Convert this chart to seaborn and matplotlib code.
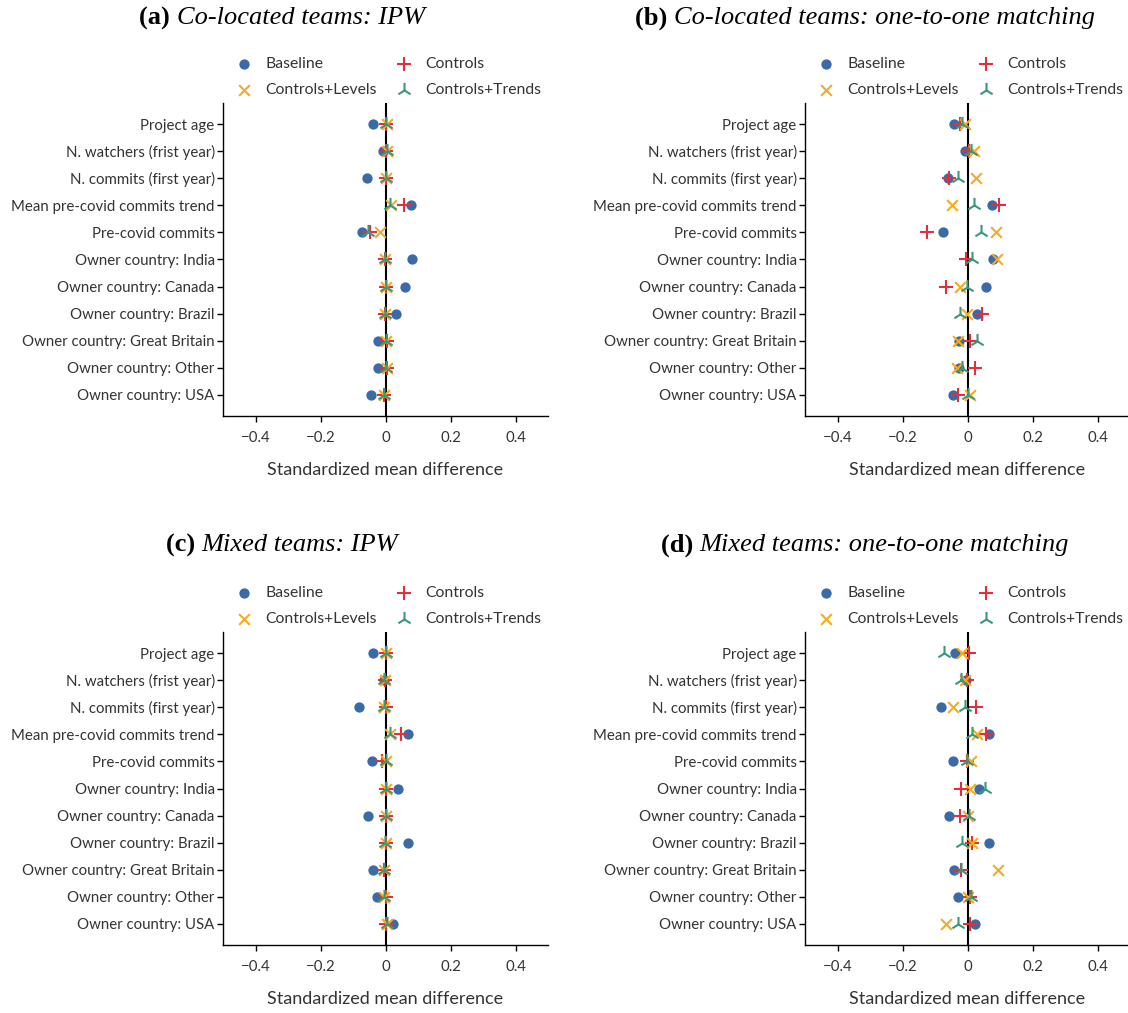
import numpy as np
import pandas as pd
import matplotlib
matplotlib.use("Agg")
import matplotlib.pyplot as plt
import seaborn as sns

# Covariates, top to bottom
covariates = [
    "Project age",
    "N. watchers (frist year)",
    "N. commits (first year)",
    "Mean pre-covid commits trend",
    "Pre-covid commits",
    "Owner country: India",
    "Owner country: Canada",
    "Owner country: Brazil",
    "Owner country: Great Britain",
    "Owner country: Other",
    "Owner country: USA",
]
methods = ["Baseline", "Controls", "Controls+Levels", "Controls+Trends"]

# (a) Co-located teams: IPW
a_baseline = [-0.039, -0.008, -0.057, 0.077, -0.073, 0.080, 0.061, 0.031, -0.024, -0.024, -0.045]
a_controls = [0.002, 0.002, 0.000, 0.057, -0.047, -0.002, 0.000, -0.002, 0.004, 0.004, -0.004]
a_levels = [0.004, 0.006, 0.000, 0.016, -0.016, -0.001, 0.002, -0.003, 0.000, 0.006, -0.004]
a_trends = [0.002, 0.006, 0.000, 0.015, -0.054, -0.001, 0.002, -0.003, 0.002, 0.002, -0.006]

# (b) Co-located teams: one-to-one matching
b_baseline = [-0.041, -0.007, -0.059, 0.076, -0.075, 0.078, 0.058, 0.029, -0.027, -0.026, -0.046]
b_controls = [-0.023, 0.005, -0.056, 0.098, -0.124, -0.006, -0.066, 0.044, 0.009, 0.023, -0.029]
b_levels = [-0.008, 0.019, 0.026, -0.048, 0.087, 0.092, -0.024, -0.002, -0.030, -0.032, 0.007]
b_trends = [-0.016, 0.010, -0.029, 0.021, 0.042, 0.014, -0.002, -0.024, 0.030, -0.018, 0.000]

# (c) Mixed teams: IPW
c_baseline = [-0.038, -0.004, -0.081, 0.070, -0.042, 0.037, -0.055, 0.068, -0.040, -0.026, 0.022]
c_controls = [0.001, -0.003, 0.002, 0.048, -0.011, 0.000, 0.002, 0.000, -0.004, 0.002, 0.002]
c_levels = [0.002, -0.002, -0.005, 0.014, 0.002, 0.000, 0.001, 0.000, -0.004, -0.004, 0.004]
c_trends = [0.001, -0.004, -0.006, 0.013, 0.000, 0.000, 0.001, -0.002, -0.004, -0.004, 0.004]

# (d) Mixed teams: one-to-one matching
d_baseline = [-0.040, -0.005, -0.083, 0.067, -0.044, 0.034, -0.057, 0.066, -0.042, -0.028, 0.022]
d_controls = [0.005, -0.003, 0.026, 0.056, -0.003, -0.021, -0.022, 0.014, -0.021, 0.008, 0.007]
d_levels = [-0.017, -0.008, -0.046, 0.028, 0.012, 0.007, 0.000, 0.014, 0.093, 0.002, -0.067]
d_trends = [-0.073, -0.019, -0.007, 0.015, -0.003, 0.053, 0.005, -0.017, -0.021, 0.011, -0.028]

panel_titles = [
    ("(a)", "Co-located teams: IPW"),
    ("(b)", "Co-located teams: one-to-one matching"),
    ("(c)", "Mixed teams: IPW"),
    ("(d)", "Mixed teams: one-to-one matching"),
]
panel_values = [
    [a_baseline, a_controls, a_levels, a_trends],
    [b_baseline, b_controls, b_levels, b_trends],
    [c_baseline, c_controls, c_levels, c_trends],
    [d_baseline, d_controls, d_levels, d_trends],
]

sns.set_theme(style="ticks")
plt.rcParams["font.family"] = ["Lato", "DejaVu Sans"]
TEXT = "#333333"
plt.rcParams.update({
    "text.color": TEXT,
    "axes.labelcolor": TEXT,
    "xtick.color": "black",
    "ytick.color": "black",
    "xtick.labelcolor": TEXT,
    "ytick.labelcolor": TEXT,
    "axes.edgecolor": "black",
    "axes.linewidth": 1.0,
})

styles = {
    "Baseline": dict(marker="o", color="#3B6BA6", s=55, linewidth=0),
    "Controls": dict(marker="+", color="#E0303B", s=110, linewidth=1.5),
    "Controls+Levels": dict(marker="x", color="#F7AA1F", s=60, linewidth=1.5),
    "Controls+Trends": dict(marker="2", color="#3B977A", s=120, linewidth=1.5),
}
# legend is filled row by row: Baseline, Controls / Controls+Levels, Controls+Trends
legend_order = ["Baseline", "Controls+Levels", "Controls", "Controls+Trends"]

W, H = 1128, 1013
fig = plt.figure(figsize=(W / 100, H / 100), dpi=100)

# axes rectangles in pixels: left, top, right, bottom
rects = [
    (223, 103, 548, 416),
    (805, 103, 1130, 416),
    (223, 632, 548, 945),
    (805, 632, 1130, 945),
]
title_x = [282, 865, 282, 865]
title_y = [18, 18, 545, 545]

for i, (rect, vals) in enumerate(zip(rects, panel_values)):
    l, t, r, b = rect
    ax = fig.add_axes([l / W, 1 - b / H, (r - l) / W, (b - t) / H])
    frames = []
    for m, v in zip(methods, vals):
        frames.append(pd.DataFrame({"covariate": covariates, "smd": v, "method": m}))
    df = pd.concat(frames, ignore_index=True)
    df["pos"] = df["covariate"].map({c: k for k, c in enumerate(covariates)})

    ax.axvline(0, color="black", lw=1.5, zorder=1)
    for m in methods:
        sub = df[df["method"] == m]
        sns.scatterplot(data=sub, x="smd", y="pos", ax=ax, label=m, zorder=3, **styles[m])

    ax.set_xlim(-0.5, 0.5)
    ax.set_ylim(len(covariates) - 1 + 0.78, -0.78)
    ax.set_yticks(range(len(covariates)))
    ax.set_yticklabels(covariates)
    ax.set_xticks([-0.4, -0.2, 0, 0.2, 0.4])
    ax.set_xticklabels(["\u22120.4", "\u22120.2", "0", "0.2", "0.4"])
    ax.tick_params(axis="both", labelsize=10.8, length=4, width=1.0)
    ax.tick_params(axis="x", pad=7)
    ax.tick_params(axis="y", pad=2)
    ax.set_ylabel("")
    ax.set_xlabel("Standardized mean difference", fontsize=13, labelpad=12)
    sns.despine(ax=ax)

    handles, labels = ax.get_legend_handles_labels()
    hmap = dict(zip(labels, handles))
    ax.legend([hmap[k] for k in legend_order], legend_order,
              loc="lower center", bbox_to_anchor=(0.51, 1.0), ncol=2, frameon=False,
              fontsize=11.3, handlelength=1.0, handletextpad=0.9, columnspacing=1.2,
              labelspacing=0.75, borderaxespad=0.0)

# Titles: bold tag followed by italic text, centred as a whole
fig.canvas.draw()
renderer = fig.canvas.get_renderer()
for i, (tag, title) in enumerate(panel_titles):
    t1 = fig.text(0, 0, tag + " ", fontsize=19, family="Liberation Serif",
                  fontweight="bold", color="black", va="center")
    t2 = fig.text(0, 0, title, fontsize=19, family="Liberation Serif",
                  style="italic", color="black", va="center")
    w1 = t1.get_window_extent(renderer).width
    w2 = t2.get_window_extent(renderer).width
    x0 = title_x[i] - (w1 + w2) / 2
    y = 1 - title_y[i] / H
    t1.set_position((x0 / W, y))
    t2.set_position(((x0 + w1) / W, y))

fig.savefig("out.png", dpi=100)
